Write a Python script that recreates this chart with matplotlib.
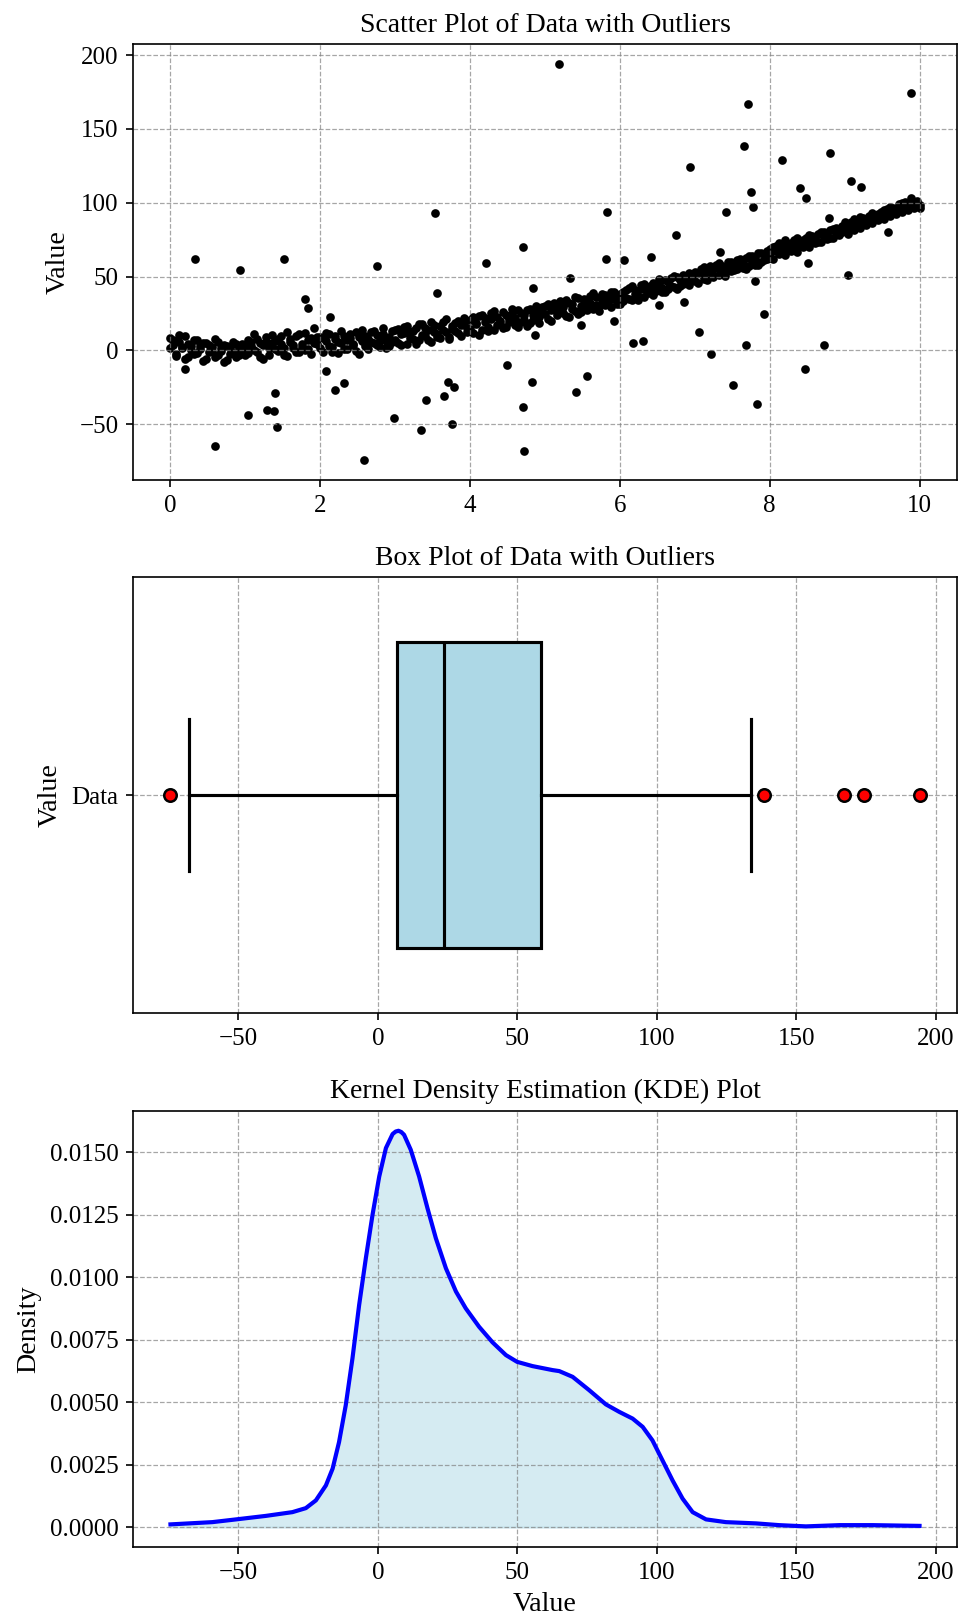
import matplotlib
matplotlib.use("Agg")
from matplotlib import pyplot as plt

plt.rcParams['font.family'] = ['Liberation Serif', 'DejaVu Serif']
plt.rcParams['font.size'] = 12
plt.rcParams['axes.titlesize'] = 13.3
plt.rcParams['axes.labelsize'] = 13.5

# main band of the scatter: x positions with two sets of y readings
band_x = [0.00, 0.04, 0.08, 0.12, 0.16, 0.20, 0.24, 0.28, 0.32, 0.36, 0.40, 0.44, 0.48, 0.52, 0.56, 0.60, 0.64, 0.68, 0.72, 0.76, 0.80, 0.84, 0.88, 0.92, 0.96,
          1.00, 1.04, 1.08, 1.12, 1.16, 1.20, 1.24, 1.28, 1.32, 1.36, 1.40, 1.44, 1.48, 1.52, 1.56, 1.60, 1.64, 1.68, 1.72, 1.76, 1.80, 1.84, 1.88, 1.92, 1.96,
          2.00, 2.04, 2.08, 2.12, 2.16, 2.20, 2.24, 2.28, 2.32, 2.36, 2.40, 2.44, 2.48, 2.52, 2.56, 2.60, 2.64, 2.68, 2.72, 2.76, 2.80, 2.84, 2.88, 2.92, 2.96,
          3.00, 3.04, 3.08, 3.12, 3.16, 3.20, 3.24, 3.28, 3.32, 3.36, 3.40, 3.44, 3.48, 3.52, 3.56, 3.60, 3.64, 3.68, 3.72, 3.76, 3.80, 3.84, 3.88, 3.92, 3.96,
          4.00, 4.04, 4.08, 4.12, 4.16, 4.20, 4.24, 4.28, 4.32, 4.36, 4.40, 4.44, 4.48, 4.52, 4.56, 4.60, 4.64, 4.68, 4.72, 4.76, 4.80, 4.84, 4.88, 4.92, 4.96,
          5.00, 5.04, 5.08, 5.12, 5.16, 5.20, 5.24, 5.28, 5.32, 5.36, 5.40, 5.44, 5.48, 5.52, 5.56, 5.60, 5.64, 5.68, 5.72, 5.76, 5.80, 5.84, 5.88, 5.92, 5.96,
          6.00, 6.04, 6.08, 6.12, 6.16, 6.20, 6.24, 6.28, 6.32, 6.36, 6.40, 6.44, 6.48, 6.52, 6.56, 6.60, 6.64, 6.68, 6.72, 6.76, 6.80, 6.84, 6.88, 6.92, 6.96,
          7.00, 7.04, 7.08, 7.12, 7.16, 7.20, 7.24, 7.28, 7.32, 7.36, 7.40, 7.44, 7.48, 7.52, 7.56, 7.60, 7.64, 7.68, 7.72, 7.76, 7.80, 7.84, 7.88, 7.92, 7.96,
          8.00, 8.04, 8.08, 8.12, 8.16, 8.20, 8.24, 8.28, 8.32, 8.36, 8.40, 8.44, 8.48, 8.52, 8.56, 8.60, 8.64, 8.68, 8.72, 8.76, 8.80, 8.84, 8.88, 8.92, 8.96,
          9.00, 9.04, 9.08, 9.12, 9.16, 9.20, 9.24, 9.28, 9.32, 9.36, 9.40, 9.44, 9.48, 9.52, 9.56, 9.60, 9.64, 9.68, 9.72, 9.76, 9.80, 9.84, 9.88, 9.92, 9.96,
          10.00]

band_y1 = [8.2, 3.5, -2.1, 5.9, 1.4, 9.6, -4.2, 2.9, 6.8, -1.4, 1.1, 4.8, -6.0, 3.4, -0.5, 7.8, -3.2, 1.7, -7.6, 3.1, -2.3, 5.8, -4.6, 1.1, 4.7,
           -3.2, 7.4, 3.0, 11.0, -1.2, 5.3, -5.6, 6.0, 1.9, 10.4, 0.7, 7.7, 4.3, -3.0, 12.8, 5.9, 2.0, 9.7, -0.8, 4.6, 12.0, 1.2, 8.2, 14.9, 4.4,
           9.1, -0.8, 6.5, 11.3, 2.4, 7.9, -1.9, 4.8, 10.1, 1.2, 8.6, 3.4, 12.7, -2.5, 6.1, 9.8, 0.7, 5.5, 13.1, 3.6, 7.2, 11.5, 1.9, 9.4, 6.0,
           13.8, 5.1, 10.9, 16.2, 4.7, 12.4, 8.0, 15.3, 6.9, 18.1, 9.6, 14.2, 5.8, 17.0, 11.3, 8.4, 19.5, 12.6, 7.9, 16.7, 13.0, 20.2, 10.1, 18.4, 14.9,
           20.4, 12.1, 18.9, 23.5, 14.2, 21.8, 16.0, 25.3, 13.7, 22.9, 18.1, 26.4, 15.6, 21.2, 24.8, 17.3, 27.5, 19.4, 23.7, 16.8, 28.1, 20.9, 25.6, 18.7, 29.3,
           29.8, 21.3, 27.6, 32.1, 23.9, 30.5, 25.2, 34.0, 22.8, 31.7, 27.0, 35.4, 26.1, 33.2, 29.0, 37.1, 28.4, 35.9, 30.3, 38.2, 31.0, 36.8, 29.7, 39.5, 33.4,
           31.2, 39.8, 35.6, 42.3, 33.9, 40.7, 37.1, 44.5, 36.2, 42.9, 38.6, 46.0, 40.1, 44.8, 39.3, 47.6, 41.5, 48.9, 43.2, 49.8, 44.0, 51.3, 45.7, 52.6, 47.9,
           53.4, 45.8, 51.9, 56.3, 47.7, 54.2, 49.6, 58.1, 50.8, 57.0, 52.5, 60.2, 53.9, 58.8, 55.1, 61.7, 56.0, 62.9, 57.4, 64.3, 58.2, 66.0, 59.6, 65.1, 61.8,
           68.5, 62.1, 70.9, 65.4, 72.3, 64.8, 71.6, 67.2, 74.8, 66.5, 73.4, 69.9, 76.5, 70.2, 77.8, 72.6, 79.1, 73.3, 80.4, 75.7, 81.9, 76.3, 83.2, 78.0, 84.6,
           84.3, 78.9, 86.7, 81.5, 88.2, 83.0, 89.6, 84.8, 91.3, 86.1, 92.0, 88.4, 94.1, 89.0, 95.7, 90.8, 96.5, 92.3, 98.9, 93.6, 100.4, 95.1, 103.2, 97.0, 101.5,
           96.8]

band_y2 = [1.6, 6.9, -3.8, 10.2, 2.2, -5.5, 4.1, 0.4, -2.7, 7.3, 3.0, -7.4, 5.2, -1.1, 2.6, -4.4, 6.0, -0.3, 3.9, -6.3, 1.8, -2.0, 4.3, -3.1, 0.8,
           2.3, -1.9, 5.7, 0.1, 8.1, -4.4, 3.6, 9.0, -2.8, 4.9, 6.4, -0.6, 10.1, 1.4, -3.5, 7.6, 4.0, -1.2, 11.3, 2.7, 0.5, 7.1, -2.4, 5.3, 9.2,
           1.7, 8.3, 12.0, 3.2, -1.0, 9.9, 5.6, 13.4, 0.8, 7.0, 11.1, 4.3, -0.4, 9.2, 14.0, 2.9, 8.0, 12.3, 4.9, 10.6, 2.1, 15.2, 6.4, 3.3, 12.9,
           7.2, 14.6, 3.8, 11.7, 16.9, 8.5, 13.1, 4.6, 17.8, 10.3, 15.0, 7.4, 19.0, 12.2, 9.1, 16.3, 13.7, 21.4, 8.8, 14.5, 18.6, 11.9, 17.2, 21.8, 12.4,
           14.7, 22.6, 17.9, 10.8, 24.3, 19.6, 13.4, 21.0, 26.9, 17.5, 20.3, 14.9, 24.1, 19.0, 28.0, 22.2, 15.9, 25.1, 20.6, 27.3, 18.4, 24.0, 30.1, 22.5, 26.2,
           24.6, 31.8, 19.7, 28.9, 26.0, 33.5, 29.2, 23.1, 32.4, 27.8, 36.0, 24.5, 30.1, 35.2, 27.3, 32.0, 38.6, 30.8, 26.6, 34.4, 37.5, 32.2, 39.8, 34.9, 31.6,
           38.2, 33.6, 41.0, 35.1, 43.7, 38.0, 34.4, 41.8, 45.2, 39.0, 43.5, 37.4, 44.9, 48.1, 42.0, 39.7, 46.3, 43.6, 50.2, 41.9, 48.0, 45.0, 49.6, 44.2, 51.0,
           47.0, 52.8, 55.4, 48.6, 53.0, 57.2, 51.1, 55.9, 59.0, 53.3, 50.4, 56.7, 59.8, 54.6, 61.2, 57.0, 60.5, 55.3, 63.8, 59.7, 62.5, 57.6, 66.3, 61.4, 67.2,
           66.1, 70.2, 67.5, 73.0, 69.1, 74.6, 68.3, 72.7, 70.0, 76.2, 71.1, 75.0, 72.8, 78.3, 74.0, 76.9, 73.8, 80.2, 77.0, 79.5, 76.0, 82.4, 79.8, 81.7, 80.5,
           87.0, 83.6, 84.9, 88.8, 86.0, 90.2, 87.4, 89.3, 88.0, 93.1, 90.5, 92.6, 91.2, 95.0, 92.7, 97.3, 94.1, 96.0, 95.3, 99.6, 97.7, 98.4, 100.2, 96.2, 99.0,
           98.3]

# points away from the band
outlier_x = [0.33, 0.93, 1.52, 1.80, 1.83, 2.76, 3.53, 3.56, 4.21, 4.71, 4.84, 2.13, 0.20, 4.49, 2.08,
             2.19, 2.31, 1.39, 1.04, 1.29, 1.38, 1.42, 0.60, 2.59, 2.98, 3.34, 3.41, 3.65, 3.70, 3.78,
             3.76, 4.82, 4.70, 4.72, 5.19, 5.83, 5.82, 6.05, 6.42, 5.33, 5.42, 5.56, 6.18, 6.31, 7.06,
             7.21, 7.51, 7.69, 7.83, 7.92, 8.47, 8.72, 9.05, 6.75, 6.93, 7.42, 7.66, 7.71, 7.75, 7.78,
             8.17, 8.40, 8.49, 8.80, 9.08, 9.22, 9.89, 7.34, 6.52, 6.85, 7.80, 8.51, 9.58, 8.79, 5.92,
             5.48, 4.86]
outlier_y = [62.0, 54.5, 62.0, 35.0, 29.0, 57.0, 93.0, 38.7, 59.0, 70.4, 42.0, 23.0, -12.7, -10.0, -14.0,
             -27.0, -22.0, -29.0, -44.0, -40.0, -41.0, -52.0, -65.0, -74.3, -45.5, -54.0, -33.5, -31.0, -21.5, -24.4,
             -50.0, -21.0, -38.0, -67.8, 194.1, 94.0, 62.0, 61.5, 63.0, 49.0, -28.0, -17.0, 5.4, 6.3, 12.2,
             -2.5, -23.5, 4.0, -36.0, 24.7, -12.7, 3.6, 51.4, 78.3, 124.2, 94.0, 138.4, 167.1, 107.2, 97.3,
             129.0, 110.0, 103.0, 133.6, 114.7, 111.0, 174.3, 66.7, 31.0, 32.8, 47.0, 59.5, 80.0, 90.0, 19.7,
             17.0, 10.4]

# box plot summary
box_label = 'Data'
box_q1 = 6.8
box_median = 23.7
box_q3 = 58.3
box_whislo = -67.8
box_whishi = 133.6
box_fliers = [-74.3, 138.4, 167.1, 174.3, 194.1]

# KDE curve
kde_x = [-74.3, -59.3, -50.0, -40.1, -30.6, -25.8, -22.2, -18.6, -16.2, -13.9, -11.5, -9.1, -6.7, -4.3,
         -1.9, 0.5, 2.9, 5.3, 6.4, 7.4, 8.4, 9.4, 11.8, 14.8, 17.8, 20.8, 24.4, 28.0, 31.5, 36.3, 41.1,
         45.9, 49.9, 55.4, 62.6, 65.0, 69.8, 75.7, 81.7, 86.5, 91.3, 94.9, 98.4, 102.0, 105.6, 109.2,
         112.8, 117.6, 124.7, 135.5, 143.8, 153.4, 165.4, 177.3, 194.1]
kde_y = [0.00011, 0.00020, 0.00032, 0.00045, 0.00060, 0.00076, 0.00107, 0.00167, 0.00234, 0.00340,
         0.00487, 0.00674, 0.00888, 0.01075, 0.01249, 0.01402, 0.01516, 0.01572, 0.01582, 0.01585,
         0.01580, 0.01569, 0.01509, 0.01402, 0.01275, 0.01155, 0.01035, 0.00942, 0.00875, 0.00801,
         0.00739, 0.00688, 0.00661, 0.00644, 0.00628, 0.00624, 0.00601, 0.00548, 0.00491, 0.00461,
         0.00434, 0.00401, 0.00347, 0.00267, 0.00187, 0.00114, 0.00060, 0.00031, 0.00020, 0.00015,
         0.00008, 0.00003, 0.00008, 0.00008, 0.00005]

fig = plt.figure(figsize=(959 / 150, 1619 / 150))
left, width, height = 0.1387, 0.8592, 0.2693
ax1 = fig.add_axes([left, 0.7035, width, height])
ax2 = fig.add_axes([left, 0.3743, width, height])
ax3 = fig.add_axes([left, 0.0445, width, height])

grid_kw = dict(color='gray', linestyle='--', linewidth=0.6, alpha=0.7)

# scatter
all_x = band_x + band_x + outlier_x
all_y = band_y1 + band_y2 + outlier_y
ax1.scatter(all_x, all_y, color='black', s=10)
ax1.set_title('Scatter Plot of Data with Outliers')
ax1.set_ylabel('Value')
ax1.grid(True, **grid_kw)

# box plot
stats = [{'label': box_label, 'q1': box_q1, 'med': box_median, 'q3': box_q3,
          'whislo': box_whislo, 'whishi': box_whishi, 'fliers': box_fliers}]
ax2.bxp(stats, orientation='horizontal', widths=0.7, patch_artist=True,
        boxprops=dict(facecolor='lightblue', edgecolor='black', linewidth=1.5),
        medianprops=dict(color='black', linewidth=1.5),
        whiskerprops=dict(color='black', linewidth=1.5),
        capprops=dict(color='black', linewidth=1.5),
        flierprops=dict(marker='o', markerfacecolor='red', markeredgecolor='black',
                        markersize=6, markeredgewidth=1.2))
ax2.set_title('Box Plot of Data with Outliers')
ax2.set_ylabel('Value')
ax2.grid(True, **grid_kw)

# kde
ax3.plot(kde_x, kde_y, color='blue', linewidth=2)
ax3.fill_between(kde_x, kde_y, color='lightblue', alpha=0.5)
ax3.set_title('Kernel Density Estimation (KDE) Plot')
ax3.set_xlabel('Value')
ax3.set_ylabel('Density')
ax3.grid(True, **grid_kw)

fig.savefig('out.png', dpi=150)
